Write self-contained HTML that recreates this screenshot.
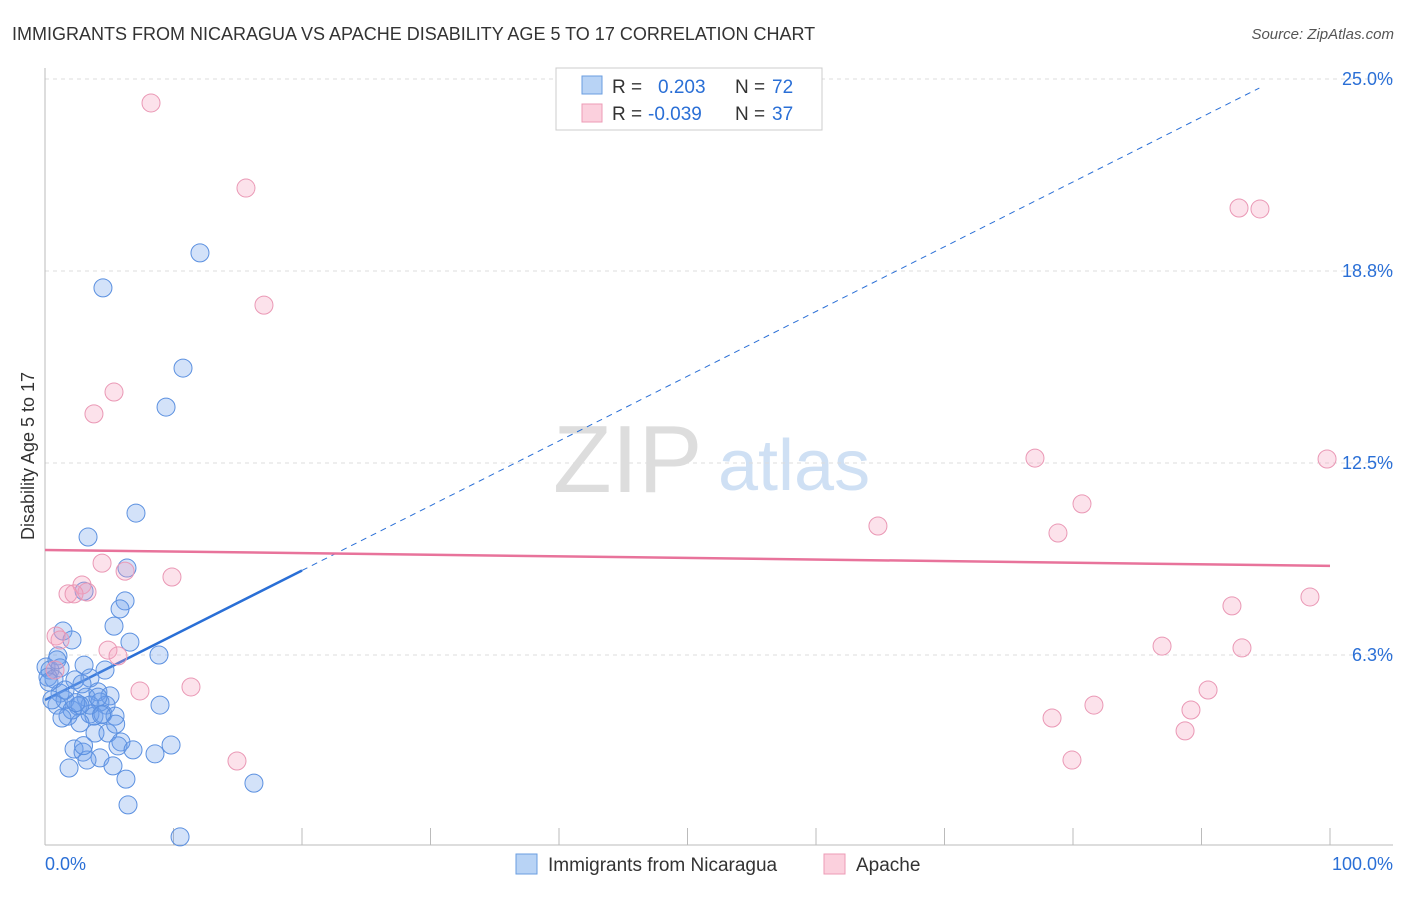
<!DOCTYPE html>
<html><head><meta charset="utf-8"><style>
body{margin:0;background:#fff;font-family:"Liberation Sans",sans-serif;}
svg text{font-family:"Liberation Sans",sans-serif;}
</style></head><body>
<svg id="chart" width="1406" height="892" viewBox="0 0 1406 892" xmlns="http://www.w3.org/2000/svg">
<text x="12" y="40" font-size="18" fill="#333">IMMIGRANTS FROM NICARAGUA VS APACHE DISABILITY AGE 5 TO 17 CORRELATION CHART</text>
<text x="1394" y="39" font-size="15" fill="#555" text-anchor="end" font-style="italic">Source: ZipAtlas.com</text>
<g>
<text x="553" y="492" font-size="96" fill="#ddd" font-family="Liberation Serif,serif">ZIP</text>
<text x="718" y="490" font-size="72" fill="#cfe0f4">atlas</text>
</g>
<g id="grid"></g>
<g id="axes"></g>
<g id="lines"></g>
<g id="pts"></g>
<g>
<rect x="556" y="68" width="266" height="62" fill="#fff" stroke="#ccc"/>
<rect x="582" y="76" width="20" height="18" fill="#b8d3f5" stroke="#6a9ee0"/>
<rect x="582" y="104" width="20" height="18" fill="#fbd0dd" stroke="#ec9bb6"/>
<text x="612" y="93" font-size="19" fill="#333">R = </text><text x="658" y="93" font-size="19" fill="#2a6fd6">0.203</text>
<text x="735" y="93" font-size="19" fill="#333">N = </text><text x="772" y="93" font-size="19" fill="#2a6fd6">72</text>
<text x="612" y="120" font-size="19" fill="#333">R = </text><text x="648" y="120" font-size="19" fill="#2a6fd6">-0.039</text>
<text x="735" y="120" font-size="19" fill="#333">N = </text><text x="772" y="120" font-size="19" fill="#2a6fd6">37</text>
</g>
<g>
<rect x="516" y="854" width="21" height="20" fill="#b8d3f5" stroke="#6a9ee0"/>
<text x="548" y="871" font-size="19" fill="#333">Immigrants from Nicaragua</text>
<rect x="824" y="854" width="21" height="20" fill="#fbd0dd" stroke="#ec9bb6"/>
<text x="856" y="871" font-size="19" fill="#333">Apache</text>
</g>
<text transform="translate(34,456) rotate(-90)" font-size="18" fill="#333" text-anchor="middle">Disability Age 5 to 17</text>
<text x="45" y="870" font-size="18" fill="#2a6fd6">0.0%</text>
<text x="1393" y="870" font-size="18" fill="#2a6fd6" text-anchor="end">100.0%</text>
</svg>
<script>
const yTicks=[6.25,12.5,18.75,25];
const yTickLabels=["6.3%","12.5%","18.8%","25.0%"];
const xTicks=[0,10,20,30,40,50,60,70,80,90,100];
const blueX=[12.06,4.51,10.74,9.42,7.08,3.35,6.38,3.04,6.23,5.84,5.37,1.40,6.61,2.10,8.87,1.01,0.08,0.39,1.17,3.04,0.23,0.70,4.67,2.33,3.50,2.88,4.12,5.06,1.17,1.56,3.19,4.28,0.93,2.57,4.75,8.95,1.79,3.50,3.81,4.51,5.45,2.72,3.89,4.90,5.91,5.68,2.26,2.96,4.28,6.85,9.81,8.56,5.29,1.87,6.30,3.27,6.46,16.26,10.51,0.31,0.54,2.10,1.32,3.50,2.72,0.93,1.56,4.12,2.4,4.4,5.5,3.0];
const blueY=[19.34,18.20,15.59,14.32,10.87,10.09,9.08,8.33,8.01,7.75,7.19,7.03,6.67,6.74,6.25,6.22,5.86,5.76,5.83,5.92,5.53,5.47,5.76,5.44,5.50,5.31,5.05,4.92,5.01,4.79,4.88,4.72,4.62,4.59,4.62,4.62,4.26,4.33,4.26,4.33,4.26,4.04,3.71,3.71,3.42,3.29,3.19,3.09,2.90,3.16,3.32,3.03,2.64,2.57,2.21,2.83,1.37,2.08,0.33,5.37,4.79,4.46,4.20,4.62,4.62,6.09,5.11,4.88,4.7,4.3,4.0,3.3];
const pinkX=[8.25,15.64,17.04,5.37,3.81,4.44,9.88,6.23,2.88,1.79,3.27,2.26,0.86,1.17,4.90,5.68,7.39,11.36,14.94,92.92,94.55,77.04,99.77,64.82,80.70,78.83,92.37,98.44,86.93,93.15,90.51,81.63,78.37,89.18,88.72,79.92,0.78];
const pinkY=[24.22,21.45,17.64,14.81,14.10,9.24,8.79,8.98,8.53,8.24,8.30,8.24,6.87,6.74,6.41,6.22,5.08,5.21,2.80,20.80,20.77,12.66,12.63,10.45,11.17,10.22,7.85,8.14,6.54,6.48,5.11,4.62,4.20,4.46,3.78,2.83,5.76];
const blueTrend=[4.785,0.2108];
const pinkTrend=[9.67,-0.0052];
const NS="http://www.w3.org/2000/svg";
function sx(v){return 45+v*12.85;}
function sy(v){return 847-v*30.72;}
function mk(t,a,p){const e=document.createElementNS(NS,t);for(const k in a)e.setAttribute(k,a[k]);p.appendChild(e);return e;}
const grid=document.getElementById('grid'),axes=document.getElementById('axes'),lines=document.getElementById('lines'),pts=document.getElementById('pts');
yTicks.forEach((t,i)=>{
 const l=mk('line',{x1:45,x2:1393,y1:sy(t),y2:sy(t),stroke:'#ddd','stroke-dasharray':'4,4'},grid);
 
 
 const tx=mk('text',{x:1393,y:sy(t)+6,'font-size':18,fill:'#2a6fd6','text-anchor':'end'},grid);
 tx.textContent=yTickLabels[i];
 
 
});
mk('line',{x1:45,x2:45,y1:68,y2:845,stroke:'#bbb'},axes);
mk('line',{x1:45,x2:1393,y1:845,y2:845,stroke:'#bbb'},axes);
xTicks.forEach(t=>{
 const l=mk('line',{x1:sx(t),x2:sx(t),y1:828,y2:845,stroke:'#bbb'},axes);
 
 
});
// trend lines
let b0=blueTrend[0],b1=blueTrend[1];
const bs=mk('line',{x1:sx(0),y1:sy(b0),x2:sx(20),y2:sy(b0+b1*20),stroke:'#2a6fd6','stroke-width':2.5},lines);


const bd=mk('line',{x1:sx(20),y1:sy(b0+b1*20),x2:sx(94.5),y2:sy(b0+b1*94.5),stroke:'#2a6fd6','stroke-width':1,'stroke-dasharray':'6,5'},lines);


const pl=mk('line',{x1:sx(0),y1:sy(pinkTrend[0]),x2:sx(100),y2:sy(pinkTrend[0]+pinkTrend[1]*100),stroke:'#e8739b','stroke-width':2.5},lines);


blueX.forEach((x,i)=>{
 const c=mk('circle',{cx:sx(x),cy:sy(blueY[i]),r:9,fill:'rgba(110,160,235,0.3)',stroke:'#5b90e0','stroke-width':1},pts);
 
 
});
pinkX.forEach((x,i)=>{
 const c=mk('circle',{cx:sx(x),cy:sy(pinkY[i]),r:9,fill:'rgba(245,160,190,0.3)',stroke:'#ea98b5','stroke-width':1},pts);
 
 
});
</script>
</body></html>
